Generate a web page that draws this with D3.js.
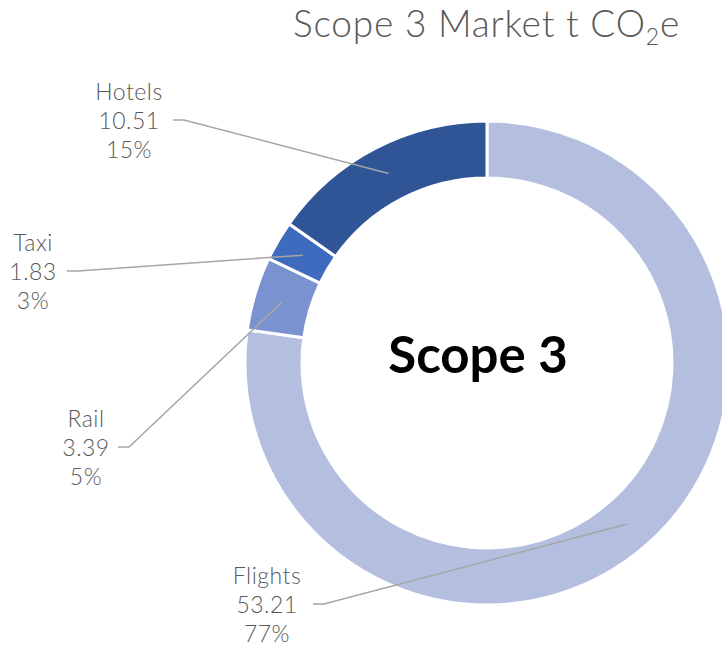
<!DOCTYPE html>
<html>
<head>
<meta charset="utf-8">
<script src="https://cdn.jsdelivr.net/npm/d3@7"></script>
<style>
  html, body { margin: 0; padding: 0; background: #fff; }
  svg { display: block; font-family: Lato, "Noto Sans", sans-serif; }
</style>
</head>
<body>
<div id="chart"></div>
<script>
// chart values
const categories = ['Flights', 'Rail', 'Taxi', 'Hotels'];
const values = [53.21, 3.39, 1.83, 10.51];
const percentLabels = ['77%', '5%', '3%', '15%'];
const colors = ['#b4bfdf', '#7a92d0', '#3e6bbd', '#2f5597'];
const chartTitle = 'Scope 3 Market t CO';
const centerLabel = 'Scope 3';

const width = 722, height = 649;
const cx = 487, cy = 363;
const outerR = 242, innerR = 185;

// label boxes (centre x, baseline of middle line, x where the leader starts)
const labelLayout = [
    { x: 267, y: 613, lead: 313 },
    { x: 86, y: 456, lead: 118 },
    { x: 33, y: 280, lead: 67 },
    { x: 129, y: 129, lead: 173 }
];

const svg = d3.select('#chart')
    .append('svg')
    .attr('width', width)
    .attr('height', height);

// title with subscript 2
const title = svg.append('text')
    .attr('x', 680)
    .attr('y', 37)
    .attr('text-anchor', 'end')
    .attr('fill', '#595959')
    .style('font-size', '37px')
    .style('letter-spacing', '0.8px')
    .style('font-weight', 300);
title.append('tspan').text(chartTitle);
title.append('tspan').attr('dy', 8).style('font-size', '23px').text('2');
title.append('tspan').attr('dy', -8).text('e');

const pie = d3.pie().sort(null).value(d => d);
const arcs = pie(values);

const arc = d3.arc().innerRadius(innerR).outerRadius(outerR);

const g = svg.append('g').attr('transform', `translate(${cx},${cy})`);

g.selectAll('.slice')
    .data(arcs)
    .enter()
    .append('path')
    .attr('class', 'slice')
    .attr('d', arc)
    .attr('fill', (d, i) => colors[i])
    .attr('stroke', '#fff')
    .attr('stroke-width', 3);

// leader lines
svg.selectAll('.leader')
    .data(arcs)
    .enter()
    .append('polyline')
    .attr('class', 'leader')
    .attr('fill', 'none')
    .attr('stroke', '#a6a6a6')
    .attr('stroke-width', 1.5)
    .attr('points', (d, i) => {
        const c = arc.centroid(d);
        const L = labelLayout[i];
        const y = L.y - 9;
        return [[L.lead, y], [L.lead + 11, y], [cx + c[0], cy + c[1]]].map(p => p.join(',')).join(' ');
    });

// data labels
const labels = svg.selectAll('.lbl')
    .data(arcs)
    .enter()
    .append('text')
    .attr('class', 'lbl')
    .attr('text-anchor', 'middle')
    .attr('fill', '#595959')
    .style('font-size', '23px')
    .style('letter-spacing', '0.5px')
    .style('font-weight', 300);

labels.each(function (d, i) {
    const L = labelLayout[i];
    const t = d3.select(this);
    const lines = [categories[i], d3.format('.2f')(values[i]), percentLabels[i]];
    lines.forEach((s, k) => {
        t.append('tspan')
            .attr('x', L.x)
            .attr('y', L.y + (k - 1) * 29)
            .text(s);
    });
});

// centre label
svg.append('text')
    .attr('x', 478)
    .attr('y', 373)
    .attr('text-anchor', 'middle')
    .attr('fill', '#000')
    .style('font-size', '51px')
    .style('font-weight', 700)
    .text(centerLabel);
</script>
</body>
</html>
